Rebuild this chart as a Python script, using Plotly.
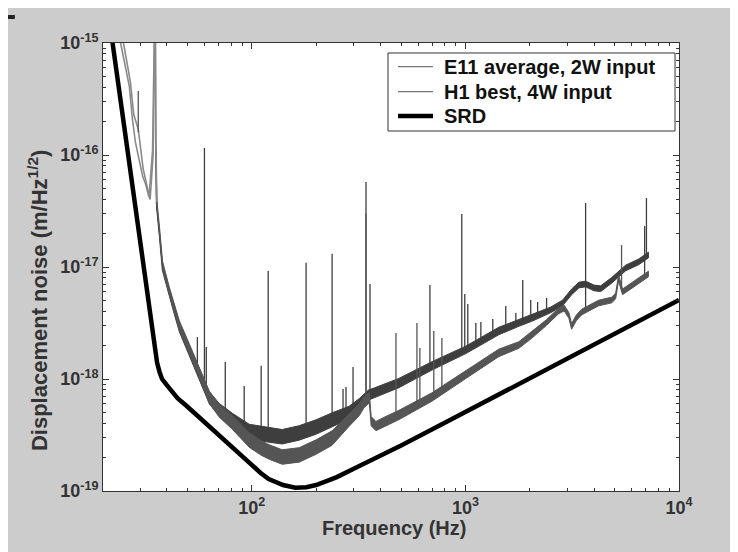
import numpy as np
import plotly.graph_objects as go

# ---------------- data ----------------
srd_freq = [21, 22, 24, 26, 28, 30, 32, 34, 35, 36, 37, 38, 40, 42, 45, 50, 60, 70, 80, 90,
            100, 110, 120, 140, 160, 180, 200, 222, 250, 300, 400, 500, 700, 1000, 2000, 5000, 10000]
srd_asd = [2.26e-15, 1.19e-15, 3.5e-16, 1.16e-16, 4.15e-17, 1.59e-17, 6.5e-18, 2.8e-18, 1.9e-18,
           1.4e-18, 1.15e-18, 1.0e-18, 8.8e-19, 7.8e-19, 6.7e-19, 5.65e-19, 4.1e-19, 3.14e-19,
           2.48e-19, 2.03e-19, 1.7e-19, 1.45e-19, 1.28e-19, 1.13e-19, 1.07e-19, 1.08e-19, 1.13e-19,
           1.22e-19, 1.33e-19, 1.58e-19, 2.06e-19, 2.55e-19, 3.55e-19, 5.06e-19, 1.01e-18, 2.53e-18,
           5.07e-18]

e11_freq = [23.0, 24.3, 26.7, 27.6, 28.5, 30.8, 31.8, 33.0, 34.3, 35.0, 35.2, 35.5, 35.8, 36.9,
            38.1, 41.1, 43.4, 45.8, 49.4, 52.6, 56.8, 63.2, 70.4, 81.0, 97.2, 110.6, 120.6, 138.7,
            166.5, 200, 237.6, 285, 318, 335, 352, 381, 415, 488, 697, 1004, 1432, 1778, 2043, 2500,
            2850, 3142, 3400, 3654, 4000, 4300, 4838, 5623, 6471, 7194]
e11_asd = [2.0e-15, 1.0e-15, 4.1e-16, 2.1e-16, 1.3e-16, 6.5e-17, 5.5e-17, 4.2e-17, 1.1e-16, 7.0e-16,
           3.0e-15, 1.2e-16, 3.6e-17, 2.0e-17, 1.0e-17, 5.9e-18, 4.1e-18, 2.9e-18, 2.1e-18, 1.57e-18,
           1.1e-18, 6.8e-19, 5.3e-19, 4.3e-19, 3.4e-19, 3.25e-19, 3.16e-19, 3.05e-19, 3.3e-19,
           3.73e-19, 4.3e-19, 5.0e-19, 5.9e-19, 6.5e-19, 7.2e-19, 7.66e-19, 8.15e-19, 9.2e-19,
           1.31e-18, 1.82e-18, 2.68e-18, 3.16e-18, 3.5e-18, 4.13e-18, 4.77e-18, 6.0e-18, 6.9e-18,
           7.05e-18, 6.5e-18, 6.4e-18, 7.6e-18, 9.8e-18, 1.11e-17, 1.28e-17]
e11_spread = [1.03, 1.03, 1.03, 1.04, 1.04, 1.04, 1.04, 1.04, 1.04, 1.03, 1.03, 1.04, 1.05, 1.06,
              1.07, 1.08, 1.09, 1.10, 1.10, 1.11, 1.12, 1.13, 1.14, 1.15, 1.16, 1.16, 1.16, 1.16,
              1.16, 1.16, 1.16, 1.14, 1.13, 1.12, 1.11, 1.10, 1.10, 1.10, 1.09, 1.08, 1.08, 1.07,
              1.07, 1.06, 1.06, 1.06, 1.06, 1.06, 1.06, 1.06, 1.06, 1.06, 1.06, 1.06]
e11_spike_freq = [55.6, 60.0, 61.2, 75.1, 92.1, 110.6, 119.3, 179.5, 237.6, 267.3, 276, 297.8,
                  342.5, 357.5, 682, 961.6, 993, 1026, 1119, 1181, 1343, 1545, 1722, 1855, 2022,
                  2178, 2399, 3654, 6904, 7040]
e11_spike_base = [1.2e-18, 8.5e-19, 8e-19, 4.8e-19, 3.5e-19, 3.25e-19, 3.16e-19, 3.4e-19, 4.3e-19,
                  4.7e-19, 4.8e-19, 5.2e-19, 7e-19, 7.2e-19, 1.28e-18, 1.75e-18, 1.8e-18, 1.85e-18,
                  2.0e-18, 2.1e-18, 2.5e-18, 2.8e-18, 3.1e-18, 3.3e-18, 3.5e-18, 3.7e-18, 4.0e-18,
                  4.0e-18, 8e-18, 1.2e-17]
e11_spike_top = [2.37e-18, 1.155e-16, 1.93e-18, 1.42e-18, 8.66e-19, 1.31e-18, 9.2e-18, 1.09e-17,
                 1.31e-17, 8.15e-19, 8.49e-19, 1.28e-18, 5.74e-17, 7.05e-18, 6.9e-18, 2.97e-17,
                 5.74e-18, 4.68e-18, 3.16e-18, 3.23e-18, 3.44e-18, 4.49e-18, 3.88e-18, 7.66e-18,
                 5.07e-18, 4.87e-18, 5.29e-18, 3.73e-17, 2.32e-17, 4.13e-17]

h1_freq = [23.5, 25.0, 27.0, 28.0, 29.4, 31.0, 32.3, 33.4, 34.5, 35.1, 35.3, 35.6, 35.9, 37.0,
           38.2, 41.1, 43.4, 45.8, 49.4, 52.6, 56.8, 63.2, 70.4, 81.0, 97.2, 110.6, 120.6, 138.7,
           166.5, 200, 237.6, 285, 318, 335, 355, 362, 381, 415, 488, 697, 1004, 1432, 1778, 2043,
           2400, 2730, 2900, 3050, 3142, 3300, 3500, 4204, 4838, 5049, 5214, 5441, 6471, 7194]
h1_asd = [2.0e-15, 1.0e-15, 4.5e-16, 2.3e-16, 1.7e-16, 7.5e-17, 5.2e-17, 4.0e-17, 1.0e-16, 6.0e-16,
          3.0e-15, 1.1e-16, 3.8e-17, 2.1e-17, 1.05e-17, 6.1e-18, 4.2e-18, 3.0e-18, 2.15e-18, 1.6e-18,
          1.15e-18, 6.9e-19, 5.2e-19, 4.1e-19, 2.85e-19, 2.42e-19, 2.23e-19, 2.01e-19, 2.1e-19,
          2.47e-19, 2.97e-19, 4.3e-19, 5.3e-19, 6.2e-19, 6.8e-19, 4.2e-19, 3.8e-19, 4.13e-19,
          4.77e-19, 6.9e-19, 1.09e-18, 1.71e-18, 2.01e-18, 2.47e-18, 3.2e-18, 4.05e-18, 4.3e-18,
          3.7e-18, 2.95e-18, 3.5e-18, 3.96e-18, 4.77e-18, 5.07e-18, 5.5e-18, 7.98e-18, 6.0e-18,
          7.5e-18, 8.66e-18]
h1_spread = [1.03, 1.03, 1.03, 1.04, 1.04, 1.04, 1.04, 1.04, 1.04, 1.03, 1.03, 1.04, 1.05, 1.06,
             1.07, 1.08, 1.09, 1.10, 1.10, 1.11, 1.12, 1.13, 1.14, 1.15, 1.16, 1.16, 1.16, 1.16,
             1.16, 1.16, 1.16, 1.14, 1.13, 1.12, 1.11, 1.10, 1.10, 1.10, 1.10, 1.09, 1.08, 1.08,
             1.07, 1.07, 1.06, 1.06, 1.06, 1.06, 1.06, 1.06, 1.06, 1.06, 1.06, 1.06, 1.06, 1.06,
             1.06, 1.06]
h1_spike_freq = [29.4, 342.5, 473, 593, 612, 711, 776, 5383]
h1_spike_base = [1.6e-16, 6.5e-19, 4.7e-19, 5.6e-19, 5.8e-19, 7e-19, 7.6e-19, 6e-18]
h1_spike_top = [3.73e-16, 3.0e-17, 2.58e-18, 3.16e-18, 1.89e-18, 2.68e-18, 2.32e-18, 1.57e-17]

x_tick_vals = [100, 1000, 10000]
x_tick_text = ["10<sup>2</sup>", "10<sup>3</sup>", "10<sup>4</sup>"]
y_tick_vals = [1e-19, 1e-18, 1e-17, 1e-16, 1e-15]
y_tick_text = ["10<sup>-19</sup>", "10<sup>-18</sup>", "10<sup>-17</sup>", "10<sup>-16</sup>",
               "10<sup>-15</sup>"]
x_title = "Frequency (Hz)"
y_title = "Displacement noise (m/Hz<sup>1/2</sup>)"
legend_labels = ["E11 average, 2W input", "H1 best, 4W input", "SRD"]

# ---------------- styling ----------------
FONT = "Liberation Sans, Arial, sans-serif"
TXT = "#333333"
E11_COLOR = "#3e3e3e"
H1_COLOR = "#555555"
LOWF_COLOR = "#8a8a8a"   # the seismic-wall part is drawn in a lighter grey
LOWF_SPLIT = 36.0        # Hz, end of the lighter thin-line segment
LEG_SAMPLE = [dict(color="#777777", width=1.2), dict(color="#777777", width=1.2),
              dict(color="black", width=4.5)]

fig = go.Figure()


def add_noise(freq, asd, spread, sf, sb, st, color, name):
    f = np.array(freq)
    a = np.array(asd)
    s = np.array(spread)
    lowf = f <= LOWF_SPLIT
    band = f >= 35.4
    fb, ab, sbnd = f[band], a[band], s[band]
    band_x = np.concatenate([fb, fb[::-1]])
    band_y = np.concatenate([ab * sbnd, (ab / sbnd)[::-1]])
    fig.add_trace(go.Scatter(x=band_x, y=band_y, mode="lines", fill="toself",
                             fillcolor=color, line=dict(color=color, width=1),
                             name=name, hoverinfo="skip"))
    fig.add_trace(go.Scatter(x=f[lowf], y=a[lowf], mode="lines", name=name,
                             line=dict(color=LOWF_COLOR, width=1.6)))
    xs, ys = [], []
    for fq, b, t in zip(sf, sb, st):
        xs += [fq, fq, None]
        ys += [b, t, None]
    fig.add_trace(go.Scatter(x=xs, y=ys, mode="lines", name=name,
                             line=dict(color=color, width=1.3)))


add_noise(e11_freq, e11_asd, e11_spread, e11_spike_freq, e11_spike_base, e11_spike_top,
          E11_COLOR, legend_labels[0])
add_noise(h1_freq, h1_asd, h1_spread, h1_spike_freq, h1_spike_base, h1_spike_top,
          H1_COLOR, legend_labels[1])

fig.add_trace(go.Scatter(x=srd_freq, y=srd_asd, mode="lines", name=legend_labels[2],
                         line=dict(color="black", width=4.5)))


def minor_vals(lo_exp, hi_exp):
    return [m * 10.0 ** k for k in range(lo_exp, hi_exp) for m in range(2, 10)]


axis_common = dict(
    type="log", showgrid=False, zeroline=False, automargin=False,
    showline=True, linecolor="#333333", linewidth=1, mirror="allticks",
    ticks="inside", ticklen=6, tickcolor="#333333",
    tickfont=dict(family=FONT, size=18, color=TXT, weight="bold"),
)

fig.update_xaxes(**axis_common, range=[np.log10(20.1), 4], tickvals=x_tick_vals,
                 ticktext=x_tick_text,
                 minor=dict(ticks="inside", ticklen=3, tickcolor="#333333",
                            tickvals=minor_vals(1, 4)))
fig.update_yaxes(**axis_common, range=[-19, -15], tickvals=y_tick_vals, ticktext=y_tick_text,
                 minor=dict(ticks="inside", ticklen=3, tickcolor="#333333",
                            tickvals=minor_vals(-19, -15)))

# axis titles
fig.add_annotation(text=x_title, xref="paper", yref="paper", x=0.505, y=-0.082,
                   xanchor="center", yanchor="middle", showarrow=False,
                   font=dict(family=FONT, size=20, color=TXT, weight="bold"))
fig.add_annotation(text=y_title, xref="paper", yref="paper", x=-0.113, y=0.426,
                   xanchor="center", yanchor="middle", showarrow=False, textangle=-90,
                   font=dict(family=FONT, size=22, color=TXT, weight="bold"))

# legend box drawn in paper coordinates
fig.add_shape(type="rect", xref="paper", yref="paper", x0=0.4948, x1=0.9931, y0=0.8036,
              y1=0.9777, fillcolor="white", line=dict(color="#333333", width=1), layer="above")
leg_y = [0.9471, 0.8913, 0.8371]
for lab, ly, ls in zip(legend_labels, leg_y, LEG_SAMPLE):
    fig.add_shape(type="line", xref="paper", yref="paper", x0=0.5122, x1=0.5729, y0=ly, y1=ly,
                  line=ls, layer="above")
    fig.add_annotation(text=lab, xref="paper", yref="paper", x=0.5885, y=ly, xanchor="left",
                       yanchor="middle", showarrow=False,
                       font=dict(family=FONT, size=20, color="#111111", weight="bold"))

# small dark mark at the top-left corner
fig.add_shape(type="line", xref="paper", yref="paper", x0=-0.165, x1=-0.153, y0=1.058,
              y1=1.058, line=dict(color="#222222", width=4))

fig.update_layout(
    width=730, height=544,
    margin=dict(l=95, r=59, t=35, b=61),
    paper_bgcolor="#cccccc", plot_bgcolor="white",
    showlegend=False,
)

fig.write_html("out.html")
